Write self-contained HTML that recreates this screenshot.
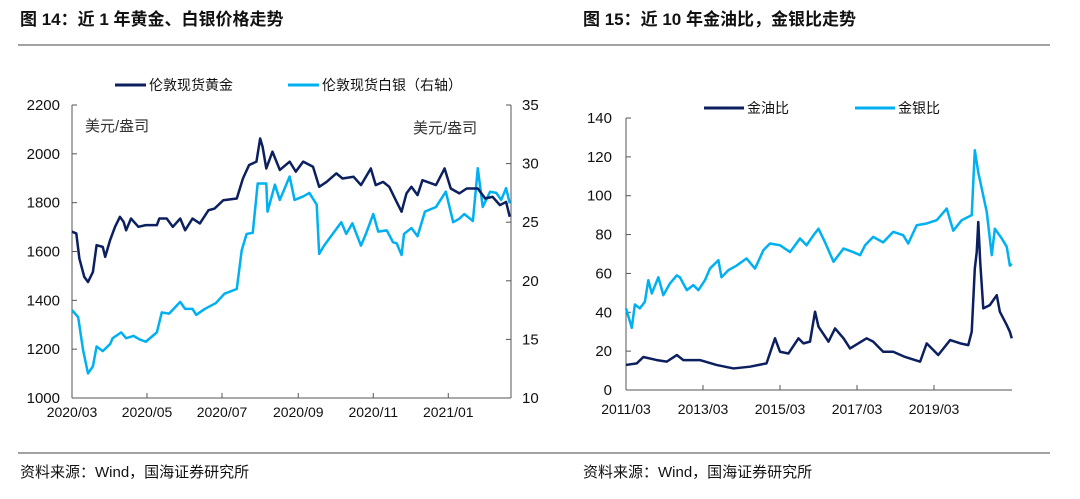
<!DOCTYPE html>
<html><head><meta charset="utf-8"><style>
body{margin:0;width:1080px;height:494px;background:#fff;overflow:hidden;font-family:"Liberation Sans","Noto Sans CJK SC",sans-serif;}
svg text{font-family:"Liberation Sans","Noto Sans CJK SC",sans-serif;}
</style></head><body>
<svg id="s" width="1080" height="494">
<text x="20" y="25" font-size="17" font-weight="bold" fill="#111">图 14：近 1 年黄金、白银价格走势</text>
<text x="583" y="25" font-size="17" font-weight="bold" fill="#111">图 15：近 10 年金油比，金银比走势</text>
<line x1="18" y1="45" x2="1050" y2="45" stroke="#444" stroke-width="1"/>
<line x1="18" y1="453" x2="1050" y2="453" stroke="#444" stroke-width="1"/>
<text x="20" y="477" font-size="15" fill="#111">资料来源：Wind，国海证券研究所</text>
<text x="583" y="477" font-size="15" fill="#111">资料来源：Wind，国海证券研究所</text>
<g id="L"></g><g id="R"></g>
</svg>
<script>
const goldDays=[0,3.5,6,10,13,17,20,25,27,31,35,39,42,44,48,54,60,69,71,77,82,88,92,98,104,111,116,123,134,139,144,150,153,155,158,163,169,177,182,188,196,201,207,215,220,229,235,243,247,253,258,264,268,272,276,281,285,296,303,308,315,321,330,336,342,348,353,356];
const goldPrice=[1681,1674,1571,1496,1475,1516,1626,1619,1578,1647,1701,1742,1721,1687,1735,1701,1708,1708,1735,1735,1701,1735,1687,1735,1715,1769,1776,1810,1817,1899,1954,1968,2063,2029,1940,2009,1934,1968,1927,1968,1947,1865,1885,1920,1899,1906,1872,1940,1872,1885,1865,1803,1763,1838,1865,1831,1892,1872,1940,1858,1838,1858,1858,1817,1824,1790,1803,1742];
const silverDays=[0,5,9,13,17,20,25,31,33,40,44,50,55,60,69,73,79,88,92,98,101,108,117,124,134,138,142,147,151,158,159,165,169,177,181,188,193,199,201,205,212,219,223,228,235,239,245,249,256,261,264,268,270,276,281,287,296,304,310,315,319,326,330,334,340,345,349,353,356];
const silverPrice=[17.5,16.9,14.1,12.1,12.7,14.4,14.0,14.6,15.1,15.6,15.1,15.3,15.0,14.8,15.6,17.3,17.2,18.2,17.6,17.6,17.1,17.6,18.1,18.9,19.3,22.6,24.0,24.1,28.3,28.3,25.9,28.2,26.9,28.9,26.9,27.2,27.5,26.5,22.3,23.0,24.0,25.0,24.0,24.9,23.0,24.0,25.7,24.2,24.3,23.3,23.2,22.2,24.0,24.5,23.8,25.9,26.3,27.6,25.0,25.3,25.7,25.1,29.6,26.3,27.6,27.5,26.9,27.9,26.6];
const leftTicksL=[1000,1200,1400,1600,1800,2000,2200];
const rightTicksL=[10,15,20,25,30,35];
const xTickLabelsL=["2020/03","2020/05","2020/07","2020/09","2020/11","2021/01"];
const xTickDaysL=[0,61,122,184,245,306];

const gsYears=[2011.17,2011.32,2011.40,2011.53,2011.66,2011.75,2011.84,2012.01,2012.14,2012.31,2012.49,2012.57,2012.75,2012.92,2013.05,2013.22,2013.35,2013.57,2013.65,2013.83,2014.04,2014.30,2014.52,2014.74,2014.91,2015.17,2015.43,2015.69,2015.86,2016.04,2016.17,2016.34,2016.56,2016.82,2017.07,2017.25,2017.38,2017.59,2017.85,2018.11,2018.37,2018.50,2018.72,2018.98,2019.24,2019.50,2019.67,2019.89,2020.15,2020.23,2020.32,2020.45,2020.54,2020.67,2020.75,2020.93,2021.06,2021.14,2021.19];
const gsRatio=[42,32,44,42,45.4,56.5,49.7,58,48.8,54.8,59,58,51.4,54,51.4,56.5,62.5,66.8,58,61.7,64,67.7,62.5,72,75.4,74.5,71,78,74.5,79.7,83,76,66,72.8,71,69.4,74.5,78.8,76,81.4,79.7,75.4,84.8,85.7,87.4,93.4,82,87.4,90,123.4,112,100,91.7,69.4,83,78,73.7,64,65];
const goYears=[2011.17,2011.45,2011.62,2011.97,2012.23,2012.49,2012.66,2013.09,2013.52,2013.96,2014.39,2014.82,2015.04,2015.17,2015.39,2015.65,2015.78,2015.95,2016.08,2016.17,2016.43,2016.60,2016.82,2016.99,2017.42,2017.59,2017.85,2018.11,2018.42,2018.81,2018.98,2019.28,2019.59,2019.85,2020.06,2020.15,2020.23,2020.28,2020.32,2020.37,2020.45,2020.62,2020.80,2020.88,2021.06,2021.14,2021.19];
const goRatio=[12.9,13.7,17,15.4,14.6,18,15.4,15.4,12.9,11.1,12,13.7,26.6,19.7,18.8,26.6,24,24.9,40.3,32.6,24.9,31.7,26.6,21.4,26.6,24.9,19.7,19.7,17,14.6,24,18,25.7,24,23.1,30,62.5,71,86.5,66,42,43.7,48.8,40.3,33.4,30,26.6];
const yTicksR=[0,20,40,60,80,100,120,140];
const xTickLabelsR=["2011/03","2013/03","2015/03","2017/03","2019/03"];
const xTickYearsR=[2011.17,2013.17,2015.17,2017.17,2019.17];

const NS="http://www.w3.org/2000/svg";
function mk(p,tag,a,txt){const e=document.createElementNS(NS,tag);for(const k in a)e.setAttribute(k,a[k]);if(txt!==undefined)e.textContent=txt;p.appendChild(e);return e;}
const DARK="#0c1f5f",LIGHT="#00b0f0";

// LEFT chart
const L=document.getElementById('L');
const lx=d=>72+d*(439/357);
const ly=v=>398-(v-1000)/1200*293;
const ry=v=>398-(v-10)/25*293;
let e=mk(L,'line',{x1:72,y1:105,x2:72,y2:398,stroke:'#555'});


e=mk(L,'line',{x1:511,y1:105,x2:511,y2:398,stroke:'#555'});


e=mk(L,'line',{x1:72,y1:398,x2:511,y2:398,stroke:'#555'});


leftTicksL.forEach(v=>{mk(L,'line',{x1:72,y1:ly(v),x2:77,y2:ly(v),stroke:'#555'});
 e=mk(L,'text',{x:60,y:ly(v)+5,'font-size':15,'text-anchor':'end',fill:'#111'},v);
 
 });
rightTicksL.forEach(v=>{mk(L,'line',{x1:506,y1:ry(v),x2:511,y2:ry(v),stroke:'#555'});
 e=mk(L,'text',{x:522,y:ry(v)+5,'font-size':15,fill:'#111'},v);
 
 });
xTickDaysL.forEach((d,i)=>{mk(L,'line',{x1:lx(d),y1:393,x2:lx(d),y2:398,stroke:'#555'});
 e=mk(L,'text',{x:lx(d),y:417,'font-size':14,'text-anchor':'middle',fill:'#111'},xTickLabelsL[i]);
 
 });
e=mk(L,'text',{x:85,y:131,'font-size':15,fill:'#333','font-family':'Liberation Serif, Noto Serif CJK SC, serif'},'美元/盎司');


e=mk(L,'text',{x:413,y:133,'font-size':15,fill:'#333','font-family':'Liberation Serif, Noto Serif CJK SC, serif'},'美元/盎司');


e=mk(L,'polyline',{points:silverDays.map((d,i)=>lx(d)+','+ry(silverPrice[i])).join(' '),fill:'none',stroke:LIGHT,'stroke-width':2.5,'stroke-linejoin':'round'});


e=mk(L,'polyline',{points:goldDays.map((d,i)=>lx(d)+','+ly(goldPrice[i])).join(' '),fill:'none',stroke:DARK,'stroke-width':2.5,'stroke-linejoin':'round'});


mk(L,'line',{x1:115,y1:85,x2:146,y2:85,stroke:DARK,'stroke-width':3});
e=mk(L,'text',{x:149,y:90,'font-size':14,fill:'#111'},'伦敦现货黄金');


mk(L,'line',{x1:288,y1:85,x2:319,y2:85,stroke:LIGHT,'stroke-width':3});
e=mk(L,'text',{x:322,y:90,'font-size':14,fill:'#111'},'伦敦现货白银（右轴）');



// RIGHT chart
const R=document.getElementById('R');
const xr=y=>626+(y-2011.17)*38.5;
const yr=v=>390-v/140*272;
e=mk(R,'line',{x1:626,y1:118,x2:626,y2:390,stroke:'#555'});


e=mk(R,'line',{x1:626,y1:390,x2:1012,y2:390,stroke:'#555'});


yTicksR.forEach(v=>{mk(R,'line',{x1:626,y1:yr(v),x2:631,y2:yr(v),stroke:'#555'});
 e=mk(R,'text',{x:612,y:yr(v)+5,'font-size':15,'text-anchor':'end',fill:'#111'},v);
 
 });
xTickYearsR.forEach((y,i)=>{mk(R,'line',{x1:xr(y),y1:385,x2:xr(y),y2:390,stroke:'#555'});
 e=mk(R,'text',{x:xr(y),y:414,'font-size':14,'text-anchor':'middle',fill:'#111'},xTickLabelsR[i]);
 
 });
e=mk(R,'polyline',{points:gsYears.map((y,i)=>xr(y)+','+yr(gsRatio[i])).join(' '),fill:'none',stroke:LIGHT,'stroke-width':2.5,'stroke-linejoin':'round'});


e=mk(R,'polyline',{points:goYears.map((y,i)=>xr(y)+','+yr(goRatio[i])).join(' '),fill:'none',stroke:DARK,'stroke-width':2.5,'stroke-linejoin':'round'});


mk(R,'line',{x1:704,y1:108,x2:744,y2:108,stroke:DARK,'stroke-width':3});
e=mk(R,'text',{x:747,y:113,'font-size':14,fill:'#111'},'金油比');


mk(R,'line',{x1:855,y1:108,x2:895,y2:108,stroke:LIGHT,'stroke-width':3});
e=mk(R,'text',{x:898,y:113,'font-size':14,fill:'#111'},'金银比');


</script>
</body></html>
